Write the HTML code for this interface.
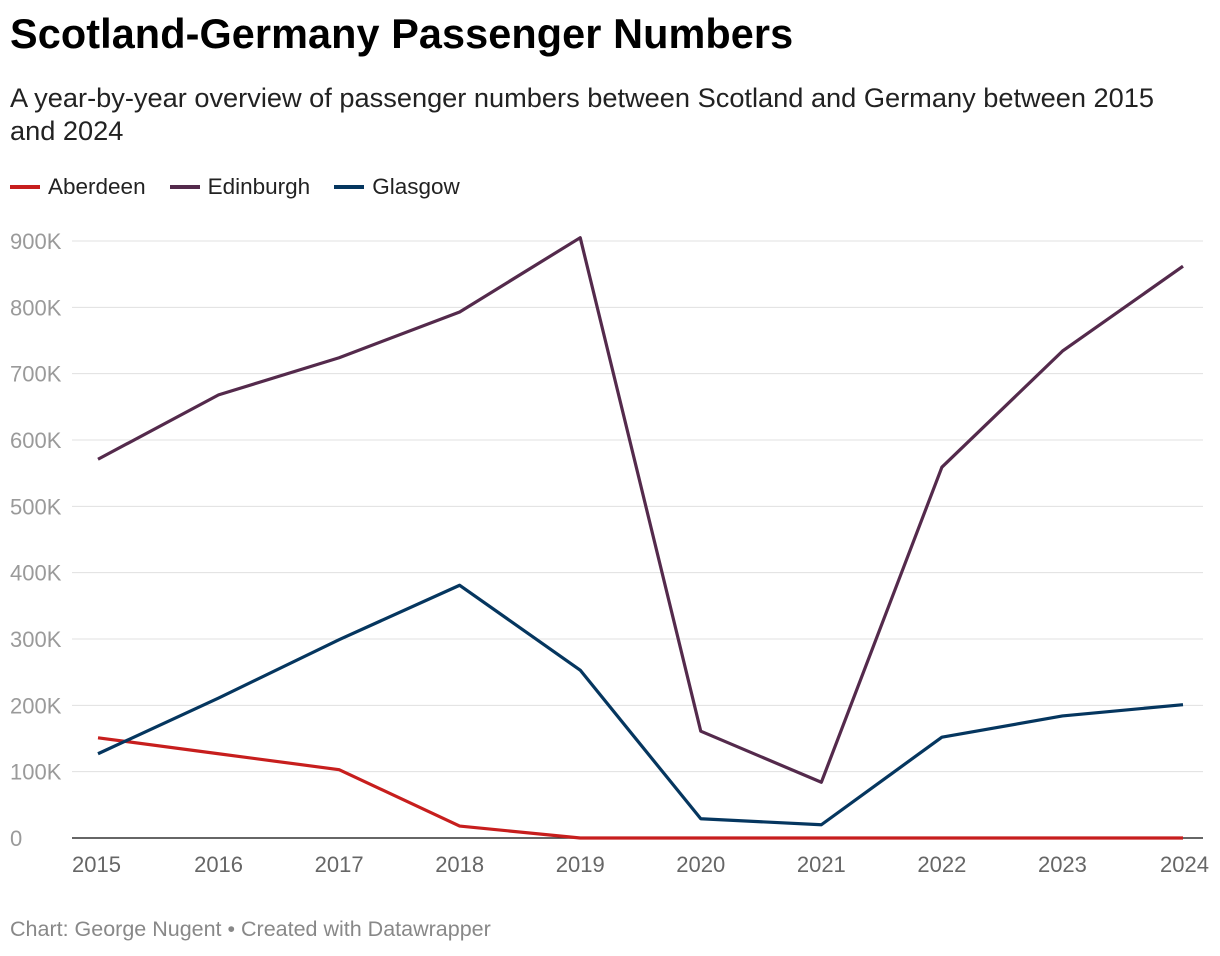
<!DOCTYPE html>
<html><head><meta charset="utf-8"><style>
body{margin:0;background:#fff;font-family:"Liberation Sans",sans-serif;}
#wrap{position:relative;width:1220px;height:956px;overflow:hidden}
h1{position:absolute;left:10px;top:11px;margin:0;font-size:41.4px;font-weight:bold;color:#000;letter-spacing:0.1px}
.sub{position:absolute;left:10px;top:81px;width:1178px;font-size:27.2px;line-height:33px;color:#222}
.legend{position:absolute;left:10px;top:174px;font-size:22.5px;color:#222;display:flex;gap:24px}
.legend span{display:flex;align-items:center}
.legend i{display:inline-block;width:30px;height:4px;margin-right:8px}
.foot{position:absolute;left:10px;top:917px;font-size:21.5px;color:#888}
</style></head><body>
<div id="wrap">
<h1>Scotland-Germany Passenger Numbers</h1>
<div class="sub">A year-by-year overview of passenger numbers between Scotland and Germany between 2015 and 2024</div>
<div class="legend">
<span><i style="background:#c71e1d"></i>Aberdeen</span>
<span><i style="background:#542a4c"></i>Edinburgh</span>
<span><i style="background:#05365f"></i>Glasgow</span>
</div>
<svg id="plot" width="1220" height="956" style="position:absolute;left:0;top:0"></svg>
<div class="foot">Chart: George Nugent • Created with Datawrapper</div>
</div>
<script>
const years=["2015","2016","2017","2018","2019","2020","2021","2022","2023","2024"];
const aberdeen=[151000,127000,103000,18000,0,0,0,0,0,0];
const edinburgh=[571000,668000,724000,793000,905000,161000,84000,559000,734000,862000];
const glasgow=[127000,211000,299000,381000,253000,29000,20000,152000,184000,201000];
const yTicks=[0,100000,200000,300000,400000,500000,600000,700000,800000,900000];
const yTickLabels=["0","100K","200K","300K","400K","500K","600K","700K","800K","900K"];
const NS="http://www.w3.org/2000/svg";
const svg=document.getElementById('plot');
const x0=98,x1=1183,yb=838,yt=241,ymax=900000;
const xs=i=>x0+(x1-x0)*i/(years.length-1);
const ys=v=>yb-(yb-yt)*v/ymax;
function mk(t,a){const e=document.createElementNS(NS,t);for(const k in a)e.setAttribute(k,a[k]);svg.appendChild(e);return e;}
yTicks.forEach((v,i)=>{
 const l=mk('line',{x1:72,x2:1203,y1:ys(v),y2:ys(v),stroke:v===0?'#333':'#e0e0e0','stroke-width':v===0?1.5:1});
 
 
 const t=mk('text',{x:10,y:ys(v)+8,'font-size':22,fill:'#9a9a9a','font-family':'Liberation Sans, sans-serif'});
 t.textContent=yTickLabels[i];
 
 
});
years.forEach((y,i)=>{
 const t=mk('text',{x:xs(i),y:872,'font-size':22,fill:'#666','text-anchor':i===0?'start':(i===years.length-1?'end':'middle'),'font-family':'Liberation Sans, sans-serif'});
 if(i===0)t.setAttribute('x',xs(i)-26);
 if(i===years.length-1)t.setAttribute('x',xs(i)+26);
 t.textContent=y;
 
 
});
[[aberdeen,'#c71e1d','aberdeen'],[glasgow,'#05365f','glasgow'],[edinburgh,'#542a4c','edinburgh']].forEach(([d,c,n])=>{
 const p=mk('polyline',{points:d.map((v,i)=>xs(i)+','+ys(v)).join(' '),fill:'none',stroke:c,'stroke-width':3.2,'stroke-linejoin':'round'});
 
 
});
</script>
</body></html>
